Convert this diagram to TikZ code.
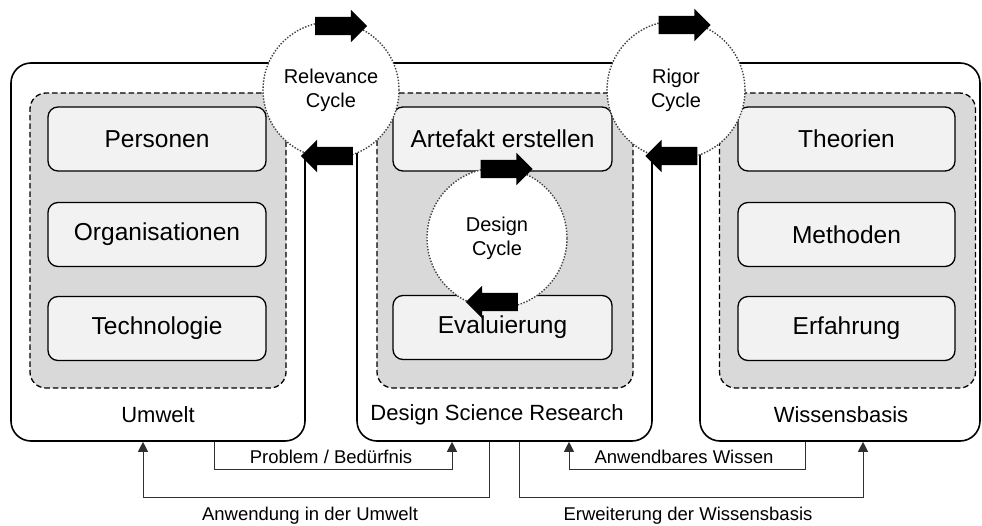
\documentclass[tikz,border=0pt]{standalone}
\usepackage{fontspec}
\setmainfont{Liberation Sans}
\usetikzlibrary{shapes.arrows,calc,arrows.meta}

\definecolor{areagray}{HTML}{D9D9D9}
\definecolor{itemgray}{HTML}{F2F2F2}
\definecolor{cyclegray}{HTML}{404040}
\definecolor{conngray}{HTML}{303030}

\begin{document}
\begin{tikzpicture}[x=1pt,y=-1pt,
  outerbox/.style={draw=black,line width=1.6pt,rounded corners=20pt,fill=white,inner sep=0pt,minimum height=378pt},
  areabox/.style={draw=black,line width=1.3pt,dash pattern=on 5.5pt off 3pt,rounded corners=16pt,fill=areagray,inner sep=0pt,minimum height=295pt,minimum width=256pt},
  itembox/.style={draw=black,line width=1.3pt,rounded corners=10pt,fill=itemgray,minimum height=64pt,inner sep=0pt,font=\fontsize{24.5}{29}\selectfont},
  cyclenode/.style={circle,draw=cyclegray,line width=1.4pt,dash pattern=on 1.4pt off 1.6pt,fill=white,inner sep=0pt,align=center,font=\fontsize{20}{24}\selectfont},
  blockarrow/.style={single arrow,fill=black,draw=none,minimum height=52pt,inner xsep=0pt,inner ysep=9pt,single arrow head extend=7pt,single arrow head indent=0pt},
  boxlabel/.style={font=\fontsize{22}{26}\selectfont,inner sep=0pt},
  flowlabel/.style={font=\fontsize{18.5}{22}\selectfont,inner sep=0pt},
  conn/.style={draw=conngray,line width=1pt,-{Triangle[length=10pt,width=10pt]}}
]
\useasboundingbox (0,0) rectangle (982,525);

% outer containers
\node[outerbox,minimum width=294pt] (umwelt) at (158,252) {};
\node[outerbox,minimum width=295pt] (dsr) at (504.5,252) {};
\node[outerbox,minimum width=280pt] (wissen) at (840,252) {};

% dashed areas
\node[areabox] (areaL) at (158,240.5) {};
\node[areabox] (areaM) at (505,240.5) {};
\node[areabox] (areaR) at (847.5,240.5) {};

% items
\node[itembox,minimum width=218pt] (personen) at (157,139) {Personen};
\node[itembox,minimum width=218pt] (organis) at (157,234.5) {Organisationen};
\node[itembox,minimum width=218pt] (technik) at (157,328.5) {Technologie};
\node[itembox,minimum width=219pt] (artefakt) at (502.5,139) {Artefakt erstellen};
\node[itembox,minimum width=219pt] (evaluierung) at (502.5,327.5) {Evaluierung};
\node[itembox,minimum width=217pt] (theorien) at (846.5,139) {Theorien};
\node[itembox,minimum width=217pt] (methoden) at (846.5,234.5) {Methoden};
\node[itembox,minimum width=217pt] (erfahrung) at (846.5,328.5) {Erfahrung};

% container labels
\node[boxlabel] (lblU) at (158,415) {Umwelt};
\node[boxlabel] (lblD) at (497,415) {Design Science Research};
\node[boxlabel] (lblW) at (841,415) {Wissensbasis};

% cycles
\node[cyclenode,minimum size=136pt] (relevance) at (331,90) {Relevance\\Cycle};
\node[cyclenode,minimum size=138pt] (rigor) at (676,90) {Rigor\\Cycle};
\node[cyclenode,minimum size=140pt] (design) at (497,238) {Design\\Cycle};

% cycle arrows
\node[blockarrow] (relTop) at (336.5,26) {};
\node[blockarrow,shape border rotate=180] (relBot) at (331.5,156) {};
\node[blockarrow] (rigTop) at (680,25) {};
\node[blockarrow,shape border rotate=180] (rigBot) at (676,156) {};
\node[blockarrow] (desTop) at (502,169) {};
\node[blockarrow,shape border rotate=180] (desBot) at (496.5,302) {};

% flows between containers
\draw[conn] ($(umwelt.south)+(56,0)$) -- ++(0,28) -| ($(dsr.south)+(-52.5,0)$);
\draw[conn] ($(dsr.south)+(-15.5,0)$) -- ++(0,56) -| ($(umwelt.south)+(-15,0)$);
\draw[conn] ($(wissen.south)+(-35,0)$) -- ++(0,28) -| ($(dsr.south)+(64.5,0)$);
\draw[conn] ($(dsr.south)+(14.5,0)$) -- ++(0,56) -| ($(wissen.south)+(23,0)$);

\node[flowlabel] (lblProblem) at (331,457) {Problem / Bedürfnis};
\node[flowlabel] (lblAnwendung) at (310,516) {Anwendung in der Umwelt};
\node[flowlabel] (lblWissen) at (684,457) {Anwendbares Wissen};
\node[flowlabel] (lblErweiterung) at (688,516) {Erweiterung der Wissensbasis};
\end{tikzpicture}
\end{document}
